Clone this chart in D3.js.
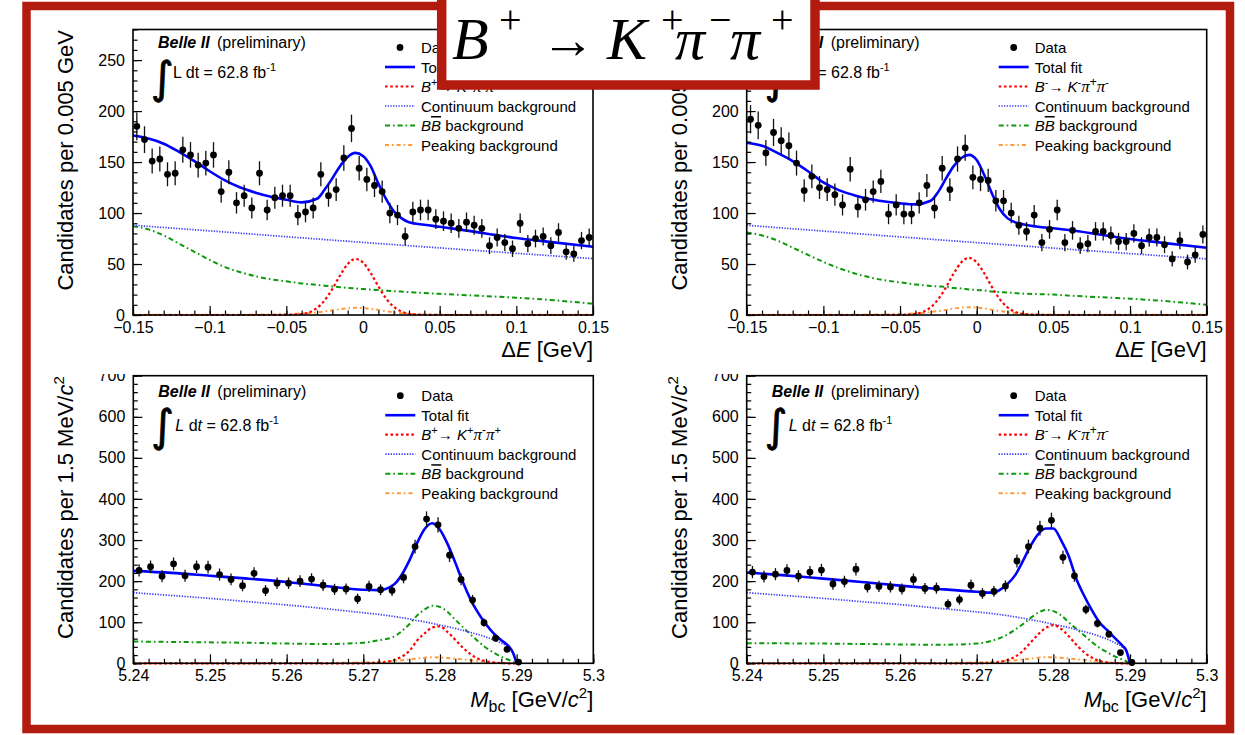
<!DOCTYPE html>
<html><head><meta charset="utf-8">
<script src="https://cdn.jsdelivr.net/npm/d3@7"></script>
<style>
body{margin:0;background:#fff}
svg text{font-family:"Liberation Sans",Arial,sans-serif;fill:#000}
</style>
</head><body><script>
// ---------------- DATA ----------------
// Delta E histograms: 60 bins of 0.005 GeV from -0.15 to 0.15
const dEMin = -0.15, dEBinWidth = 0.005, dENBins = 60;
const tlCounts = [185,172,151,153,138,139,162,157,147,149,157,121,140,110,117,105,139,103,115,117,117,98,101,105,138,117,123,154,183,144,133,127,121,100,98,77,101,103,103,94,92,90,85,91,88,85,68,76,71,65,90,70,75,77,68,81,62,60,73,76];
const trCounts = [192,186,159,179,171,166,149,122,136,125,123,118,108,143,106,113,121,131,99,108,99,99,110,127,105,144,123,153,164,135,133,132,112,112,100,88,82,98,71,84,103,71,83,68,70,82,82,78,72,72,80,68,76,76,69,55,73,52,59,79];
// Mbc histograms: bins of 1.5 MeV from 5.24 (filled up to the 5.29 endpoint)
const mbcMin = 5.24, mbcBinWidth = 0.0015;
const blCounts = [226,235,212,242,213,235,234,216,204,189,219,177,195,195,200,205,190,180,181,157,187,179,177,209,284,351,337,263,204,154,99,61,34,3];
const brCounts = [222,211,217,226,212,222,227,193,199,229,186,187,186,181,204,182,183,144,155,190,170,175,188,249,284,329,348,258,213,131,97,71,26,2];

// Fit curves (Delta E)
const dEGrid = [-0.15,-0.14,-0.13,-0.12,-0.11,-0.10,-0.09,-0.08,-0.07,-0.06,-0.05,-0.04,-0.03,-0.025,-0.02,-0.015,-0.01,-0.005,0,0.005,0.01,0.015,0.02,0.025,0.03,0.04,0.05,0.06,0.08,0.10,0.12,0.15];
const dEContGrid = [-0.15,-0.1,-0.05,0,0.05,0.1,0.15];
const tlTotal = [176,173,168,160,151,141,132,125,120,116,113,110.5,114,123,134,146,155,159,156,146,129,114,102,95,91,88.5,86.5,84.5,80,75.5,72,67];
const tlCont  = [88,82.5,76.8,71.2,65.8,60.5,55.3];
const tlBB    = [87,84,78,70,62,54,47,42,38,35,33,31,29.5,28.7,28,27.3,26.6,26,25.4,24.9,24.4,23.9,23.4,23,22.5,21.5,20.8,20,18.5,17,15,11];
const tlSig   = [0,0,0,0,0,0,0,0,0,0,0.1,1,6.9,14.3,25.5,38.7,49.9,55,51.5,41.2,28.1,16.3,8.1,3.4,1.2,0.1,0,0,0,0,0,0];
const tlPeak  = [0.3,0.3,0.3,0.3,0.3,0.3,0.3,0.3,0.4,0.5,0.8,1.5,2.6,3.5,4.6,5.7,6.6,7,6.8,6.1,5,3.8,2.7,1.8,1.2,0.6,0.4,0.3,0.3,0.3,0.3,0.3];
const trTotal = [169,166,159,151,141,130,122.5,117.5,113.7,111.3,109.5,108.5,112,121,134,146,154,157,152,137,119,104,95,91,89,86.5,85,83.3,79,74.5,71,66];
const trCont  = [88,82.3,76.6,71,65.6,60.2,55];
const trBB    = [81,78,73,66,59,52,46,41,37,34,32,30,28.5,28,27.5,26.5,26,25,24.5,24,23,22.5,22,21.5,21,20.5,20,19,17.5,16,14,10];
const trSig   = [0,0,0,0,0,0,0,0,0,0,0.1,1.1,7.6,15.6,27.3,40.7,51.7,56,51.7,40.7,27.3,15.6,7.6,3.1,1.1,0.1,0,0,0,0,0,0];
const trPeak  = [0.3,0.3,0.3,0.3,0.3,0.3,0.3,0.3,0.4,0.5,0.8,1.6,2.9,3.9,5,6.3,7.2,7.6,7.3,6.4,5.2,3.9,2.8,1.9,1.2,0.6,0.4,0.3,0.3,0.3,0.3,0.3];

// Fit curves (Mbc)
const mbcGrid = [5.24,5.245,5.25,5.255,5.26,5.265,5.27,5.272,5.274,5.275,5.276,5.277,5.278,5.279,5.28,5.281,5.282,5.283,5.284,5.285,5.286,5.287,5.288,5.289,5.2895,5.29];
const blTotal = [225,220,213,206,198,188,179,178,192,215,250,292,327,341,325,290,245,197,155,122,95,73,56,41,27,0];
const blCont  = [172,165,158,150,142,133,123,119,114,111,108,104,101,97,93,89,85,80,75,70,64,57,49,38,26,0];
const blBB    = [53,52,51,50,48,47,50,56,65,78,95,116,131,140,137,125,106,88,70,53,38,26,16,8,4,0];
const blSig   = [0,0,0,0,0,0,0,1.5,8,16,30,55,73,87,90,76,57,38,22,11,5,2,0.5,0,0,0];
const blPeak  = [0.3,0.3,0.3,0.4,0.5,0.8,2,3.5,6,7.5,9.5,11.5,13.5,14.5,14,13,11.5,9.5,7.5,5.5,3.5,2,1,0.5,0.3,0];
const brTotal = [221,214,206,198,189,181,174,172,193,214,248,285,314,328,328,300,261,205,165,130,100,81,62,43,32,0];
const brCont  = [172,165,158,150,143,134,125,121,116,113,110,106,103,99,95,91,87,82,77,72,66,59,50,39,28,0];
const brBB    = [49,48.5,48,47,46,45,48,55,70,82,95,110,123,130,127,117,100,84,68,52,38,27,17,9,5,0];
const brSig   = [0,0,0,0,0,0,0,1.5,8,16,30,50,70,86,93,84,66,45,27,14,6,2,0.5,0,0,0];
const brPeak  = [0.3,0.3,0.3,0.4,0.5,0.8,2,3.5,6,7.5,9.5,11.5,13.5,14.5,14.5,13.5,12,10,8,6,4,2.2,1.2,0.5,0.3,0];

// Axis ticks
const dETicks = [-0.15,-0.1,-0.05,0,0.05,0.1,0.15];
const mbcTicks = [5.24,5.25,5.26,5.27,5.28,5.29,5.3];
const dEYTicks = [0,50,100,150,200,250];
const mbcYTicks = [0,100,200,300,400,500,600,700];

// Text
const legendNames = ["Data","Total fit","signal","Continuum background","BB","Peaking background"];

// ---------------- DRAW ----------------
const W = 1245, H = 735;
const svg = d3.select("body").append("svg").attr("width", W).attr("height", H);
const RED = "#b31b0e";
const SANS = '"Liberation Sans",Arial,sans-serif';
const SERIF = '"Liberation Serif","Times New Roman",serif';

const styles = {
  total: {stroke:"#0000ff", width:2.6, dash:null},
  sig:   {stroke:"#ff0000", width:2.2, dash:"2.6,2.6"},
  cont:  {stroke:"#3d3dff", width:1.7, dash:"1.3,1.4"},
  bb:    {stroke:"#0a9a0a", width:2.0, dash:"5,3,1.6,3"},
  peak:  {stroke:"#ff9a3a", width:2.0, dash:"4,3,1.6,3"}
};

function rich(textSel, parts){
  let cur = 0;
  parts.forEach(pt => {
    const off = pt.sup ? -pt.sup : (pt.sub ? pt.sub : 0);
    const ts = textSel.append("tspan").text(pt.t).attr("dy", off - cur);
    cur = off;
    if (pt.it) ts.style("font-style","italic");
    if (pt.bold) ts.style("font-weight","bold");
    if (pt.size) ts.attr("font-size", pt.size);
    if (pt.font) ts.style("font-family", pt.font);
    if (pt.over) ts.style("text-decoration","overline");
    if (pt.dx) ts.attr("dx", pt.dx);
  });
}

const dEBins = d3.range(dENBins).map(i => dEMin + dEBinWidth*(i+0.5));
const mbcBinsL = d3.range(blCounts.length).map(i => mbcMin + mbcBinWidth*(i+0.5));
const mbcBinsR = d3.range(brCounts.length).map(i => mbcMin + mbcBinWidth*(i+0.5));

const panels = [
  {x0:133, x1:593, y0:29.5, y1:315, kind:"dE", bins:dEBins, counts:tlCounts, grid:dEGrid, contGrid:dEContGrid,
   total:tlTotal, cont:tlCont, bb:tlBB, sig:tlSig, peak:tlPeak, charge:"+"},
  {x0:746.7, x1:1206.7, y0:29.5, y1:315, kind:"dE", bins:dEBins, counts:trCounts, grid:dEGrid, contGrid:dEContGrid,
   total:trTotal, cont:trCont, bb:trBB, sig:trSig, peak:trPeak, charge:"-"},
  {x0:133.3, x1:593.3, y0:375.7, y1:663.3, kind:"mbc", bins:mbcBinsL, counts:blCounts, grid:mbcGrid, contGrid:mbcGrid,
   total:blTotal, cont:blCont, bb:blBB, sig:blSig, peak:blPeak, charge:"+"},
  {x0:746.7, x1:1206.7, y0:375.7, y1:663.3, kind:"mbc", bins:mbcBinsR, counts:brCounts, grid:mbcGrid, contGrid:mbcGrid,
   total:brTotal, cont:brCont, bb:brBB, sig:brSig, peak:brPeak, charge:"-"}
];

const defs = svg.append("defs");
defs.append("clipPath").attr("id","botclip").attr("clipPathUnits","userSpaceOnUse").append("rect")
  .attr("x",-300).attr("y",374).attr("width",W+600).attr("height",H);

panels.forEach((p, pi) => {
  const g = svg.append("g");
  const isDE = p.kind === "dE";
  const x = d3.scaleLinear().domain(isDE ? [-0.15,0.15] : [5.24,5.3]).range([p.x0, p.x1]);
  const y = d3.scaleLinear().domain(isDE ? [0,280] : [0,700]).range([p.y1, p.y0]);

  const mk = (grid) => d3.line().x((d,i) => x(grid[i])).y(d => y(d)).curve(d3.curveMonotoneX);
  const curves = [
    ["peak", p.peak, p.grid], ["bb", p.bb, p.grid], ["cont", p.cont, p.contGrid],
    ["sig", p.sig, p.grid], ["total", p.total, p.grid]
  ];
  curves.forEach(([k, vals, grid]) => {
    const s = styles[k];
    g.append("path").attr("d", mk(grid)(vals)).attr("fill","none")
      .attr("stroke", s.stroke).attr("stroke-width", s.width)
      .attr("stroke-dasharray", s.dash);
  });

  // data with Poisson error bars
  const pts = g.append("g");
  p.counts.forEach((c, i) => {
    const e = Math.sqrt(c);
    pts.append("line").attr("x1", x(p.bins[i])).attr("x2", x(p.bins[i]))
      .attr("y1", y(c - e)).attr("y2", y(c + e)).attr("stroke","#111").attr("stroke-width",1.3);
  });
  pts.selectAll("circle").data(p.counts).join("circle")
    .attr("cx", (d,i) => x(p.bins[i])).attr("cy", d => y(d)).attr("r", 3.4).attr("fill","#000");

  // frame
  g.append("rect").attr("x", p.x0).attr("y", p.y0).attr("width", p.x1-p.x0).attr("height", p.y1-p.y0)
    .attr("fill","none").attr("stroke","#000").attr("stroke-width",1.6);

  // axes
  const fmt = d3.format("");
  const gx = g.append("g").attr("transform", `translate(0,${p.y1})`)
    .call(d3.axisBottom(x).tickValues(isDE ? dETicks : mbcTicks).tickSize(-9).tickPadding(isDE ? 7 : 6).tickFormat(fmt));
  gx.append("g").call(d3.axisBottom(x).tickValues(x.ticks(30)).tickSize(-4.5).tickFormat(""));
  const gy = g.append("g").attr("transform", `translate(${p.x0},0)`)
    .call(d3.axisLeft(y).tickValues(isDE ? dEYTicks : mbcYTicks).tickSize(-9).tickPadding(8).tickFormat(fmt));
  gy.append("g").call(d3.axisLeft(y).tickValues(y.ticks(isDE ? 28 : 35)).tickSize(-4.5).tickFormat(""));
  [gx, gy].forEach(a => {
    a.attr("font-size", 16).attr("font-family", SANS);
    a.selectAll(".domain").remove();
    a.selectAll("line").attr("stroke","#000").attr("stroke-width",1.2);
    a.selectAll("text").attr("fill","#000");
  });
  if (!isDE) gy.attr("clip-path","url(#botclip)");

  // axis titles
  const xt = g.append("text").attr("x", p.x1).attr("y", isDE ? 357 : 707)
    .attr("text-anchor","end").attr("font-size", 22);
  if (isDE) rich(xt, [{t:"Δ"},{t:"E",it:true},{t:" [GeV]"}]);
  else rich(xt, [{t:"M",it:true},{t:"bc",sub:5,size:16},{t:" [GeV/"},{t:"c",it:true},{t:"2",sup:9,size:15}]);
  if (!isDE) xt.append("tspan").attr("dy", 9).text("]");

  const yt = g.append("text").attr("transform", `translate(${p.x0-60},${p.y0+0.5}) rotate(-90)`)
    .attr("text-anchor","end").attr("font-size", 22);
  if (isDE) rich(yt, [{t:"Candidates per 0.005 GeV"}]);
  else rich(yt, [{t:"Candidates per 1.5 MeV/"},{t:"c",it:true},{t:"2",sup:9,size:15}]);

  // Belle II labels
  const lbOff = isDE ? 18.5 : 21;
  const bt = g.append("text").attr("x", p.x0+25).attr("y", p.y0+lbOff).attr("font-size", 16);
  rich(bt, [{t:"Belle II",it:true,bold:true},{t:"  (preliminary)",dx:3}]);
  const intBase = isDE ? 63 : 65.5;
  g.append("text").attr("x", p.x0+18).attr("y", p.y0+intBase).attr("font-size", 44)
    .style("font-family",'"DejaVu Sans",sans-serif')
    .attr("stroke","#000").attr("stroke-width",0.7).text("∫");
  const lum = g.append("text").attr("x", p.x0+(isDE?40:42)).attr("y", p.y0+(isDE?48:55.5)).attr("font-size", 16);
  if (isDE) rich(lum, [{t:"L dt = 62.8 fb"},{t:"-1",sup:7,size:11}]);
  else rich(lum, [{t:"L",it:true},{t:" d"},{t:"t",it:true},{t:" = 62.8 fb"},{t:"-1",sup:7,size:11}]);

  // legend
  const lg = g.append("g");
  const rowY = i => p.y0 + (isDE ? 18 : 20) + i*19.5;
  const lx0 = p.x0+252, lx1 = p.x0+282, tx = p.x0+288;
  lg.append("circle").attr("cx", p.x0+267).attr("cy", rowY(0)).attr("r", 3.4).attr("fill","#000");
  ["total","sig","cont","bb","peak"].forEach((k, i) => {
    const s = styles[k];
    lg.append("line").attr("x1", lx0).attr("x2", lx1).attr("y1", rowY(i+1)).attr("y2", rowY(i+1))
      .attr("stroke", s.stroke).attr("stroke-width", s.width).attr("stroke-dasharray", s.dash);
  });
  legendNames.forEach((name, i) => {
    const t = lg.append("text").attr("x", tx).attr("y", rowY(i)+5.5).attr("font-size", 15);
    if (name === "signal") {
      const c = p.charge, o = c === "+" ? "-" : "+";
      rich(t, [{t:"B",it:true},{t:c,sup:6,size:11},{t:"→ "},{t:"K",it:true},{t:c,sup:6,size:11},
               {t:"π",it:true,font:SERIF,size:17},{t:o,sup:6,size:12},{t:"π",it:true,font:SERIF,size:17},{t:c,sup:6,size:11}]);
    } else if (name === "BB") {
      rich(t, [{t:"B",it:true},{t:"B",it:true,over:true},{t:" background"}]);
    } else {
      t.text(name);
    }
  });
});

// outer red frame
svg.append("rect").attr("x",26.5).attr("y",6).attr("width",1203.5).attr("height",723)
  .attr("fill","none").attr("stroke",RED).attr("stroke-width",8.5);

// title box
svg.append("rect").attr("x",441.7).attr("y",-10).attr("width",373.3).attr("height",95)
  .attr("fill","#fff").attr("stroke",RED).attr("stroke-width",9.5);
const title = svg.append("g");
const tparts = [
  {t:"B", x:452, y:59, s:60, it:true},
  {t:"+", x:499, y:33, s:40},
  {t:"→", x:541, y:58, s:54},
  {t:"K", x:607, y:59, s:60, it:true},
  {t:"+", x:661, y:33, s:40},
  {t:"π", x:675, y:59, s:60, it:true},
  {t:"−", x:709, y:33, s:40},
  {t:"π", x:730, y:59, s:60, it:true},
  {t:"+", x:771, y:33, s:40}
];
tparts.forEach(d => {
  title.append("text").attr("x", d.x).attr("y", d.y).attr("font-size", d.s)
    .style("font-family", SERIF).style("font-style", d.it ? "italic" : "normal").text(d.t);
});
</script></body></html>
